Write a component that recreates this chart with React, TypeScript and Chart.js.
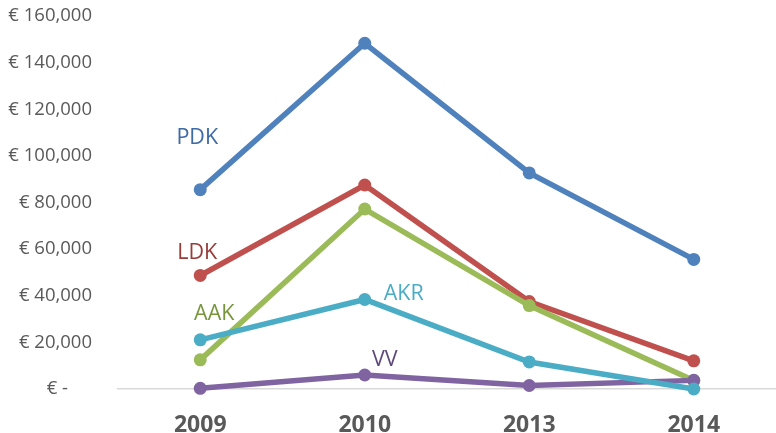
import React, { useEffect, useRef } from "react";
import { Chart, registerables } from "chart.js";

Chart.register(...registerables);

const categories = ["2009", "2010", "2013", "2014"];
const seriesNames = ["PDK", "LDK", "AAK", "AKR", "VV"];
const pdk = [85500, 148300, 92700, 55600];
const ldk = [48700, 87500, 37500, 12100];
const aak = [12500, 77200, 35800, 3600];
const akr = [21100, 38400, 11600, 0];
const vv = [300, 6000, 1500, 3700];
const seriesValues = [pdk, ldk, aak, akr, vv];
const yTicksMax = 160000;
const yStep = 20000;

const lineColors = ["#4F81BD", "#C0504D", "#9BBB59", "#4BACC6", "#8064A2"];
const labelColors = ["#3E6AA6", "#963C39", "#77963C", "#4BACC6", "#5F497A"];
// drawing order (higher drawn first, i.e. underneath)
const drawOrder = [5, 4, 3, 1, 2];
// label anchor: category index of the point, pixel offset from that point
const labelAnchors = [
  { idx: 0, dx: -3, dy: -52 },
  { idx: 0, dx: -3, dy: -23 },
  { idx: 0, dx: 14, dy: -46 },
  { idx: 1, dx: 39, dy: -6 },
  { idx: 1, dx: 20, dy: -15 },
];

const FONT = "'Open Sans', 'DejaVu Sans', sans-serif";

const seriesLabelPlugin = {
  id: "seriesLabels",
  afterDatasetsDraw(chart: any) {
    const ctx = chart.ctx;
    ctx.save();
    ctx.font = `21.5px ${FONT}`;
    ctx.textAlign = "center";
    ctx.textBaseline = "middle";
    chart.data.datasets.forEach((ds: any, i: number) => {
      const meta = chart.getDatasetMeta(i);
      const a = labelAnchors[i];
      const pt = meta.data[a.idx];
      if (!pt) return;
      ctx.fillStyle = labelColors[i];
      ctx.fillText(ds.label, pt.x + a.dx, pt.y + a.dy);
    });
    ctx.restore();
  },
};

export default function App() {
  const ref = useRef<HTMLCanvasElement | null>(null);
  useEffect(() => {
    document.body.style.margin = "0";
    const canvas = ref.current;
    if (!canvas) return;
    const chart = new Chart(canvas, {
      type: "line",
      data: {
        labels: categories,
        datasets: seriesNames.map((name, i) => ({
          label: name,
          data: seriesValues[i],
          order: drawOrder[i],
          clip: false,
          borderColor: lineColors[i],
          backgroundColor: lineColors[i],
          borderWidth: 5.5,
          pointRadius: 6.5,
          pointHoverRadius: 6.5,
          pointBorderWidth: 0,
          tension: 0,
          fill: false,
        })),
      },
      options: {
        animation: false,
        responsive: false,
        maintainAspectRatio: false,
        layout: { autoPadding: false, padding: { top: 0, right: -3, left: 0, bottom: 0 } },
        plugins: {
          legend: { display: false },
          tooltip: { enabled: false },
        },
        scales: {
          x: {
            offset: true,
            grid: { display: false, drawTicks: false },
            border: { display: true, color: "#D9D9D9", width: 1.5 },
            ticks: {
              color: "#595959",
              font: { family: FONT, size: 23, weight: "bold" },
              padding: 23,
            },
            afterFit: (scale: any) => {
              scale.height = 44;
            },
          },
          y: {
            min: 0,
            max: yTicksMax,
            grid: { display: false, drawTicks: false },
            border: { display: false },
            ticks: {
              stepSize: yStep,
              color: "#595959",
              font: { family: FONT, size: 18.5 },
              padding: 26,
              callback: (v: any) =>
                Number(v) === 0 ? "€ -     " : "€ " + Number(v).toLocaleString("en-US"),
            },
            afterFit: (scale: any) => {
              scale.width = 118;
              scale.paddingTop = 16;
              scale.paddingBottom = 0;
            },
          },
        },
      },
      plugins: [seriesLabelPlugin],
    });
    return () => chart.destroy();
  }, []);
  return (
    <div style={{ width: 776, height: 433 }}>
      <canvas ref={ref} width={776} height={433} style={{ display: "block" }} />
    </div>
  );
}
